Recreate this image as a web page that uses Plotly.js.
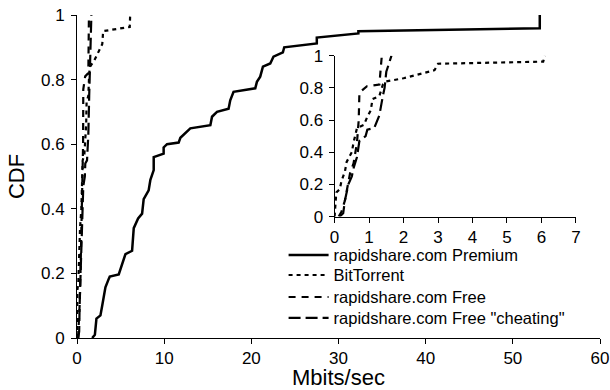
<!DOCTYPE html>
<html>
<head>
<meta charset="utf-8">
<script src="https://cdn.plot.ly/plotly-3.0.1.min.js"></script>
<style>html,body{margin:0;padding:0;background:#fff}#chart{width:610px;height:390px}</style>
</head>
<body>
<div id="chart"></div>
<script>
// Series names
const seriesNames = ['rapidshare.com Premium', 'BitTorrent', 'rapidshare.com Free', 'rapidshare.com Free "cheating"'];

// rapidshare.com Premium (Mbits/sec, CDF)
const premiumX = [1.74, 2.05, 2.23, 2.69, 2.89, 3.26, 3.64, 3.76, 4.79, 5.18, 5.56, 6.32, 6.51, 7.01, 7.47, 7.65, 8.22, 8.42, 8.80, 8.80, 9.94, 9.94, 10.33, 11.66, 11.86, 13.0, 15.3, 15.49, 16.06, 17.39, 17.58, 17.96, 20.45, 20.64, 21.02, 21.33, 22.17, 22.54, 23.62, 23.77, 27.51, 27.51, 32.28, 32.28, 53.09, 53.09];
const premiumY = [0.0, 0.01, 0.06, 0.07, 0.10, 0.157, 0.183, 0.19, 0.197, 0.23, 0.26, 0.27, 0.34, 0.37, 0.385, 0.43, 0.457, 0.49, 0.52, 0.56, 0.571, 0.59, 0.60, 0.605, 0.62, 0.649, 0.659, 0.685, 0.70, 0.71, 0.736, 0.762, 0.773, 0.793, 0.809, 0.84, 0.85, 0.871, 0.884, 0.90, 0.912, 0.93, 0.943, 0.95, 0.959, 1.0];

// BitTorrent
const btX = [0.0, 0.02, 0.05, 0.15, 0.2, 0.3, 0.35, 0.5, 0.55, 0.65, 0.85, 0.95, 1.05, 1.1, 1.3, 1.4, 1.5, 2.0, 2.9, 3.0, 6.05, 6.1];
const btY = [0.0, 0.08, 0.15, 0.17, 0.22, 0.28, 0.34, 0.4, 0.46, 0.55, 0.57, 0.62, 0.66, 0.73, 0.75, 0.82, 0.84, 0.86, 0.91, 0.95, 0.963, 1.0];

// rapidshare.com Free
const freeX = [0.12, 0.2, 0.3, 0.4, 0.45, 0.55, 0.6, 0.65, 0.7, 0.72, 0.94, 1.3, 1.33, 1.37];
const freeY = [0.0, 0.03, 0.1, 0.2, 0.27, 0.33, 0.4, 0.46, 0.6, 0.77, 0.81, 0.82, 0.9, 1.0];

// rapidshare.com Free "cheating"
const cheatX = [0.15, 0.25, 0.3, 0.4, 0.5, 0.55, 0.65, 0.72, 0.9, 0.95, 1.15, 1.3, 1.4, 1.45, 1.5, 1.6, 1.65];
const cheatY = [0.0, 0.02, 0.1, 0.2, 0.25, 0.3, 0.37, 0.47, 0.5, 0.54, 0.55, 0.63, 0.75, 0.8, 0.9, 0.96, 1.0];

// Axis ticks
const mainXTicks = [0, 10, 20, 30, 40, 50, 60];
const yTicks = [0, 0.2, 0.4, 0.6, 0.8, 1];
const insetXTicks = [0, 1, 2, 3, 4, 5, 6, 7];

const FONT = 'Liberation Sans, Arial, sans-serif';
const styles = [
  {dash: 'solid', width: 2.5},
  {dash: '4px,4px', width: 2.2},
  {dash: '7px,6px', width: 2.2},
  {dash: '12px,5px', width: 2.2}
];
const xs = [premiumX, btX, freeX, cheatX];
const ys = [premiumY, btY, freeY, cheatY];
const legendIds = ['legend', 'legend2', 'legend3', 'legend4'];

const traces = [];
for (let i = 0; i < 4; i++) {
  traces.push({
    type: 'scatter', mode: 'lines', name: seriesNames[i],
    x: xs[i], y: ys[i], xaxis: 'x', yaxis: 'y',
    line: {color: '#000', dash: styles[i].dash, width: styles[i].width},
    showlegend: true, legend: legendIds[i]
  });
}
for (let i = 1; i < 4; i++) {
  traces.push({
    type: 'scatter', mode: 'lines', name: seriesNames[i],
    x: xs[i], y: ys[i], xaxis: 'x2', yaxis: 'y2',
    line: {color: '#000', dash: styles[i].dash, width: styles[i].width},
    showlegend: false
  });
}

const axisCommon = {
  showgrid: false, zeroline: false, showline: true, linecolor: '#000', linewidth: 1,
  ticks: 'outside', ticklen: 5, tickwidth: 1, tickcolor: '#000',
  tickfont: {family: FONT, size: 17, color: '#000'}, tickmode: 'array'
};

function legendAt(y) {
  return {
    x: 0.395, y: y, xanchor: 'left', yanchor: 'top',
    bgcolor: 'rgba(0,0,0,0)', borderwidth: 0,
    font: {family: FONT, size: 16.5, color: '#000'},
    itemwidth: 40
  };
}

const layout = {
  width: 610, height: 390,
  margin: {l: 77, r: 10, t: 15, b: 52},
  paper_bgcolor: '#fff', plot_bgcolor: 'rgba(0,0,0,0)',
  font: {family: FONT, color: '#000'},
  showlegend: true,
  xaxis: Object.assign({}, axisCommon, {
    domain: [0, 1], range: [0, 60], tickvals: mainXTicks, ticktext: mainXTicks.map(String),
    anchor: 'y',
    title: {text: 'Mbits/sec', font: {family: FONT, size: 22, color: '#000'}, standoff: 1}
  }),
  yaxis: Object.assign({}, axisCommon, {
    domain: [0, 1], range: [0, 1], tickvals: yTicks, ticktext: yTicks.map(String),
    anchor: 'x', ticklabelstandoff: 3,
    title: {text: 'CDF', font: {family: FONT, size: 22, color: '#000'}, standoff: 10}
  }),
  xaxis2: Object.assign({}, axisCommon, {
    domain: [0.4925, 0.954], range: [0, 7], tickvals: insetXTicks, ticktext: insetXTicks.map(String),
    anchor: 'y2'
  }),
  yaxis2: Object.assign({}, axisCommon, {
    domain: [0.376, 0.874], range: [0, 1], tickvals: yTicks, ticktext: yTicks.map(String),
    anchor: 'x2', ticklabelstandoff: 2
  }),
  legend: legendAt(0.3102),
  legend2: legendAt(0.2484),
  legend3: legendAt(0.1803),
  legend4: legendAt(0.1154)
};

Plotly.newPlot('chart', traces, layout, {displayModeBar: false, staticPlot: true});
</script>
</body>
</html>
